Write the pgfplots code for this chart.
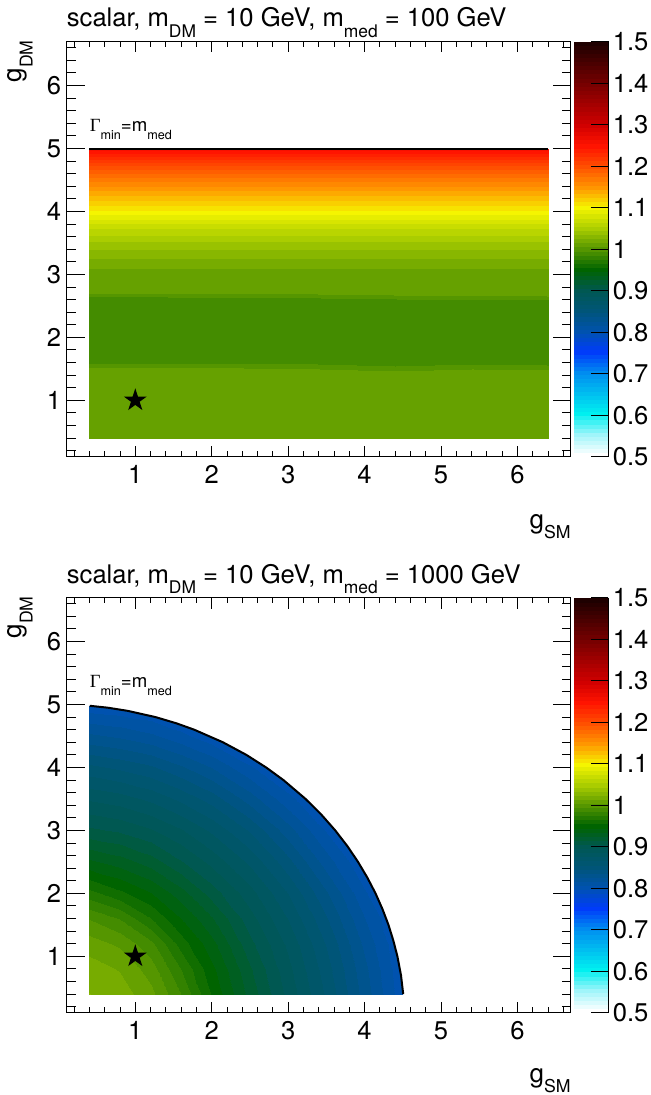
\documentclass[border=0pt]{standalone}
\usepackage{fontspec}
\setmainfont{TeX Gyre Heros}
\newfontfamily\gsym{Liberation Serif}
\usepackage{graphicx}
\usepackage{pgfplots}
\pgfplotsset{compat=1.18}
\usetikzlibrary{shapes.geometric}

\newcommand{\sub}[1]{\raisebox{-0.42em}{\scalebox{0.68}{#1}}}
\newcommand{\mainfont}{\fontsize{12.8}{15}\selectfont}
\newcommand{\labfont}{\fontsize{13}{15}\selectfont}
\pgfdeclareplotmark{fstar}{\node[star,star points=5,star point ratio=2.618,fill=black,draw=none,inner sep=0pt,minimum size=12pt]{};}

\pgfplotsset{
  colormap={rootpal}{rgb255(0pt)=(255,255,255); rgb255(5pt)=(160,245,250);
      rgb255(10pt)=(0,240,240); rgb255(15pt)=(0,190,240); rgb255(20pt)=(0,140,240);
      rgb255(25pt)=(0,60,250); rgb255(30pt)=(0,82,175); rgb255(35pt)=(0,85,120);
      rgb255(40pt)=(0,88,82); rgb255(45pt)=(0,100,0); rgb255(50pt)=(85,150,0);
      rgb255(55pt)=(170,205,0); rgb255(60pt)=(245,245,0); rgb255(65pt)=(255,150,0);
      rgb255(70pt)=(255,80,0); rgb255(75pt)=(255,20,0); rgb255(80pt)=(210,0,0);
      rgb255(90pt)=(120,0,0); rgb255(100pt)=(30,0,0)},
  colormap={rootdisc}{samples of colormap=(101 of rootpal)},
  base/.style={scale only axis, width=252.25pt, height=207.75pt,
    xmin=0.1, xmax=6.7, ymin=0.1, ymax=6.7,
    tick align=inside, axis line style={line width=0.5pt},
    every tick/.style={black, line width=0.5pt},
    tick label style={font=\mainfont},
    /pgf/number format/assume math mode=true},
  dataaxis/.style={base, view={0}{90}, xtick=\empty, ytick=\empty, ztick=\empty,
    axis line style={draw=none},
    colormap name=rootdisc, colormap access=piecewise constant,
    point meta min=0.5, point meta max=1.5,
    colorbar,
    colorbar style={at={(parent axis.north east)}, anchor=north west, xshift=-7.29pt,
      width=17.5pt,
      ytick={0.5,0.6,0.7,0.8,0.9,1,1.1,1.2,1.3,1.4,1.5},
      yticklabel pos=right,
      yticklabel style={inner sep=0pt, xshift=2pt, font=\mainfont},
      major tick length=8.5pt, tick align=inside,
      axis x line=none, axis y line*=right,
      axis line style={line width=0.5pt},
      every tick/.style={black, line width=0.5pt},
      /pgf/number format/assume math mode=true}},
  yaxis/.style={base, xtick=\empty, ytick={1,2,3,4,5,6},
    minor ytick={0.2,0.4,0.6,0.8,1.2,1.4,1.6,1.8,2.2,2.4,2.6,2.8,3.2,3.4,3.6,3.8,4.2,4.4,4.6,4.8,5.2,5.4,5.6,5.8,6.2,6.4,6.6},
    major tick length=9pt, minor tick length=4.5pt,
    yticklabel style={inner sep=0pt, xshift=-2.5pt}},
  xaxis/.style={base, ytick=\empty, xtick={1,2,3,4,5,6},
    minor xtick={0.2,0.4,0.6,0.8,1.2,1.4,1.6,1.8,2.2,2.4,2.6,2.8,3.2,3.4,3.6,3.8,4.2,4.4,4.6,4.8,5.2,5.4,5.6,5.8,6.2,6.4,6.6},
    major tick length=5.5pt, minor tick length=2.75pt,
    xticklabel style={inner sep=0pt, yshift=-4pt}},
}

\begin{document}
\begin{tikzpicture}
\useasboundingbox (0,0) rectangle (325.5pt,-547.5pt);

% ================= TOP PANEL =================
\begin{axis}[dataaxis, at={(33.25pt,-20.75pt)}, anchor=north west]
\addplot3[surf, shader=interp, mesh/cols=7] coordinates {
(0.4,0.4,1.005) (1.4,0.4,1.005) (2.4,0.4,1.005) (3.4,0.4,1.005) (4.4,0.4,1.005) (5.4,0.4,1.005) (6.4,0.4,1.005)
(0.4,1.52,1.005) (1.4,1.52,1.005) (2.4,1.52,1.005) (3.4,1.50,1.005) (4.4,1.47,1.005) (5.4,1.50,1.005) (6.4,1.48,1.005)
(0.4,1.60,0.995) (1.4,1.60,0.995) (2.4,1.60,0.995) (3.4,1.58,0.995) (4.4,1.55,0.995) (5.4,1.58,0.995) (6.4,1.56,0.995)
(0.4,2.64,0.995) (1.4,2.64,0.995) (2.4,2.63,0.995) (3.4,2.62,0.995) (4.4,2.61,0.995) (5.4,2.60,0.995) (6.4,2.59,0.995)
(0.4,2.70,1.005) (1.4,2.70,1.005) (2.4,2.70,1.005) (3.4,2.69,1.005) (4.4,2.68,1.005) (5.4,2.67,1.005) (6.4,2.66,1.005)
(0.4,2.95,1.008) (1.4,2.95,1.008) (2.4,2.95,1.008) (3.4,2.95,1.008) (4.4,2.95,1.008) (5.4,2.95,1.008) (6.4,2.95,1.008)
(0.4,3.05,1.013) (1.4,3.05,1.013) (2.4,3.05,1.013) (3.4,3.05,1.013) (4.4,3.05,1.013) (5.4,3.05,1.013) (6.4,3.05,1.013)
(0.4,3.25,1.024) (1.4,3.25,1.024) (2.4,3.25,1.024) (3.4,3.25,1.024) (4.4,3.25,1.024) (5.4,3.25,1.024) (6.4,3.25,1.024)
(0.4,3.50,1.042) (1.4,3.50,1.042) (2.4,3.50,1.042) (3.4,3.50,1.042) (4.4,3.50,1.042) (5.4,3.50,1.042) (6.4,3.50,1.042)
(0.4,3.75,1.067) (1.4,3.75,1.067) (2.4,3.75,1.067) (3.4,3.75,1.067) (4.4,3.75,1.067) (5.4,3.75,1.067) (6.4,3.75,1.067)
(0.4,4.00,1.102) (1.4,4.00,1.102) (2.4,4.00,1.102) (3.4,4.00,1.102) (4.4,4.00,1.102) (5.4,4.00,1.102) (6.4,4.00,1.102)
(0.4,4.25,1.132) (1.4,4.25,1.132) (2.4,4.25,1.132) (3.4,4.25,1.132) (4.4,4.25,1.132) (5.4,4.25,1.132) (6.4,4.25,1.132)
(0.4,4.50,1.167) (1.4,4.50,1.167) (2.4,4.50,1.167) (3.4,4.50,1.167) (4.4,4.50,1.167) (5.4,4.50,1.167) (6.4,4.50,1.167)
(0.4,4.75,1.207) (1.4,4.75,1.207) (2.4,4.75,1.207) (3.4,4.75,1.207) (4.4,4.75,1.207) (5.4,4.75,1.207) (6.4,4.75,1.207)
(0.4,5.00,1.258) (1.4,5.00,1.258) (2.4,5.00,1.258) (3.4,5.00,1.258) (4.4,5.00,1.258) (5.4,5.00,1.258) (6.4,5.00,1.258)
};
\end{axis}
\begin{axis}[yaxis, at={(33.25pt,-20.75pt)}, anchor=north west]
\addplot[black, line width=1pt] coordinates {(0.4,5.0) (6.4,5.0)};
\addplot[only marks, mark=fstar] coordinates {(1,1)};
\node[anchor=base west, inner sep=0pt, font=\fontsize{9.3}{11}\selectfont] at (axis cs:0.4,5.27) {{\gsym Γ}\sub{min}=m\sub{med}};
\end{axis}
\begin{axis}[xaxis, at={(33.25pt,-20.75pt)}, anchor=north west]
\end{axis}
\node[anchor=base west, inner sep=0pt, font=\mainfont] at (33.25pt,-13.5pt) {scalar, m\sub{DM} = 10 GeV, m\sub{med} = 100 GeV};
\node[anchor=north east, inner sep=0pt, font=\labfont] at (16.5pt,-20pt) {\rotatebox{90}{g\sub{DM}}};
\node[anchor=base east, inner sep=0pt, font=\labfont] at (285.5pt,-264pt) {g\sub{SM}};

% ================= BOTTOM PANEL =================
\begin{axis}[dataaxis, at={(33.25pt,-298.75pt)}, anchor=north west]
\addplot3[surf, shader=interp, mesh/cols=10] coordinates {
(0.4,0.4,1.025) (0.8,0.4,1.020) (1.2,0.4,1.008) (1.6,0.4,0.985) (2.0,0.4,0.954) (2.5,0.4,0.922) (3.0,0.4,0.893) (3.5,0.4,0.865) (4.0,0.4,0.832) (4.5,0.4,0.800)
(0.4,0.8,1.020) (0.8,0.8,1.014) (1.2,0.8,1.000) (1.6,0.8,0.975) (2.0,0.8,0.948) (2.5,0.8,0.917) (3.0,0.8,0.889) (3.5,0.8,0.861) (4.0,0.8,0.829) (4.5,0.8,0.798)
(0.4,1.2,1.010) (0.8,1.2,1.003) (1.2,1.2,0.988) (1.6,1.2,0.961) (2.0,1.2,0.939) (2.5,1.2,0.909) (3.0,1.2,0.884) (3.5,1.2,0.856) (4.0,1.2,0.824) (4.5,1.2,0.796)
(0.4,1.6,0.995) (0.8,1.6,0.985) (1.2,1.6,0.966) (1.6,1.6,0.946) (2.0,1.6,0.927) (2.5,1.6,0.900) (3.0,1.6,0.876) (3.5,1.6,0.848) (4.0,1.6,0.817) (4.5,1.6,0.793)
(0.4,2.0,0.969) (0.8,2.0,0.958) (1.2,2.0,0.946) (1.6,2.0,0.930) (2.0,2.0,0.911) (2.5,2.0,0.890) (3.0,2.0,0.866) (3.5,2.0,0.838) (4.0,2.0,0.808) (4.5,2.0,0.789)
(0.4,2.5,0.938) (0.8,2.5,0.931) (1.2,2.5,0.921) (1.6,2.5,0.907) (2.0,2.5,0.893) (2.5,2.5,0.874) (3.0,2.5,0.850) (3.5,2.5,0.822) (4.0,2.5,0.797) (4.5,2.5,0.782)
(0.4,3.0,0.908) (0.8,3.0,0.904) (1.2,3.0,0.897) (1.6,3.0,0.887) (2.0,3.0,0.874) (2.5,3.0,0.855) (3.0,3.0,0.831) (3.5,3.0,0.806) (4.0,3.0,0.790) (4.5,3.0,0.777)
(0.4,3.5,0.885) (0.8,3.5,0.881) (1.2,3.5,0.874) (1.6,3.5,0.864) (2.0,3.5,0.852) (2.5,3.5,0.832) (3.0,3.5,0.810) (3.5,3.5,0.794) (4.0,3.5,0.780) (4.5,3.5,0.776)
(0.4,4.0,0.859) (0.8,4.0,0.854) (1.2,4.0,0.848) (1.6,4.0,0.838) (2.0,4.0,0.826) (2.5,4.0,0.808) (3.0,4.0,0.794) (3.5,4.0,0.783) (4.0,4.0,0.777) (4.5,4.0,0.774)
(0.4,4.5,0.829) (0.8,4.5,0.825) (1.2,4.5,0.819) (1.6,4.5,0.810) (2.0,4.5,0.800) (2.5,4.5,0.790) (3.0,4.5,0.783) (3.5,4.5,0.777) (4.0,4.5,0.774) (4.5,4.5,0.773)
(0.4,5.0,0.800) (0.8,5.0,0.798) (1.2,5.0,0.795) (1.6,5.0,0.790) (2.0,5.0,0.786) (2.5,5.0,0.780) (3.0,5.0,0.777) (3.5,5.0,0.774) (4.0,5.0,0.772) (4.5,5.0,0.770)
};
\end{axis}
\begin{axis}[yaxis, at={(33.25pt,-298.75pt)}, anchor=north west]
\addplot[fill=white, draw=none, forget plot] coordinates {
(4.505,0.36) (4.505,0.4) (4.476,0.7) (4.429,1.0) (4.376,1.25) (4.312,1.5) (4.234,1.75) (4.143,2.0) (4.036,2.25) (3.914,2.5) (3.775,2.75) (3.616,3.0) (3.435,3.25) (3.228,3.5) (2.938,3.8) (2.712,4.0) (2.453,4.2) (2.147,4.4) (1.771,4.6) (1.542,4.7) (1.266,4.8) (0.899,4.9) (0.638,4.95) (0.404,4.98) (0.35,4.98) (0.35,5.1) (4.8,5.1) (4.8,0.36)};
\addplot[black, line width=1pt] coordinates {
(4.505,0.4) (4.476,0.7) (4.429,1.0) (4.376,1.25) (4.312,1.5) (4.234,1.75) (4.143,2.0) (4.036,2.25) (3.914,2.5) (3.775,2.75) (3.616,3.0) (3.435,3.25) (3.228,3.5) (2.938,3.8) (2.712,4.0) (2.453,4.2) (2.147,4.4) (1.771,4.6) (1.542,4.7) (1.266,4.8) (0.899,4.9) (0.638,4.95) (0.404,4.98)};
\addplot[only marks, mark=fstar] coordinates {(1,1)};
\node[anchor=base west, inner sep=0pt, font=\fontsize{9.3}{11}\selectfont] at (axis cs:0.4,5.27) {{\gsym Γ}\sub{min}=m\sub{med}};
\end{axis}
\begin{axis}[xaxis, at={(33.25pt,-298.75pt)}, anchor=north west]
\end{axis}
\node[anchor=base west, inner sep=0pt, font=\mainfont] at (33.25pt,-291.5pt) {scalar, m\sub{DM} = 10 GeV, m\sub{med} = 1000 GeV};
\node[anchor=north east, inner sep=0pt, font=\labfont] at (16.5pt,-298pt) {\rotatebox{90}{g\sub{DM}}};
\node[anchor=base east, inner sep=0pt, font=\labfont] at (285.5pt,-541pt) {g\sub{SM}};
\end{tikzpicture}
\end{document}
